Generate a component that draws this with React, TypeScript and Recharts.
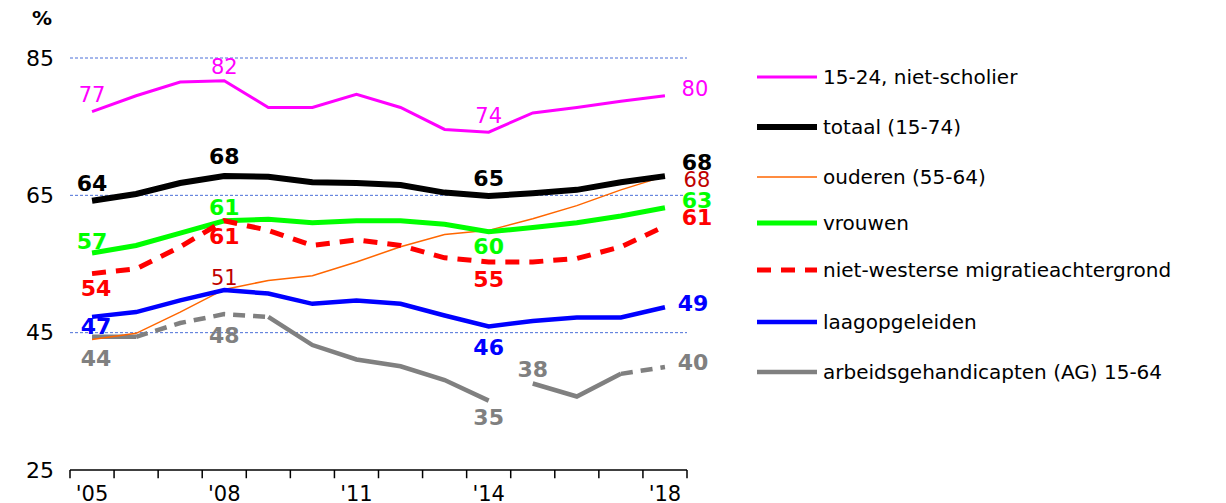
import { LineChart, Line, XAxis, YAxis, ReferenceLine, LabelList } from 'recharts'

const years = [2005, 2006, 2007, 2008, 2009, 2010, 2011, 2012, 2013, 2014, 2015, 2016, 2017, 2018]
const jongeren = [77.2, 79.5, 81.5, 81.7, 77.8, 77.8, 79.7, 77.8, 74.6, 74.2, 77, 77.8, 78.7, 79.5]
const totaal = [64.2, 65.2, 66.8, 67.8, 67.7, 66.9, 66.8, 66.5, 65.4, 64.9, 65.3, 65.8, 66.9, 67.8]
const ouderen = [44, 44.9, 48, 51.3, 52.6, 53.3, 55.3, 57.5, 59.3, 59.9, 61.6, 63.5, 65.8, 67.8]
const vrouwen = [56.6, 57.7, 59.5, 61.3, 61.5, 61, 61.3, 61.3, 60.8, 59.7, 60.3, 61, 62, 63.2]
const migratie = [53.6, 54.3, 57.5, 61.3, 59.9, 57.7, 58.5, 57.7, 55.9, 55.3, 55.3, 55.8, 57.5, 60.5]
const laag = [47.3, 48, 49.7, 51.2, 50.7, 49.2, 49.7, 49.2, 47.5, 45.9, 46.7, 47.2, 47.2, 48.7]
const ag = [44.4, 44.4, 46.4, 47.7, 47.3, 43.2, 41.1, 40.1, 38.1, 35.1, 37.6, 35.7, 39, 40]
const labelYears = [2005, 2008, 2011, 2014, 2018]
const yTicks = [25, 45, 65, 85]

// gray line pieces: [from, to, dashed]
const agPieces: [number, number, boolean][] = [
  [2005, 2006, false], [2006, 2009, true], [2009, 2014, false], [2015, 2017, false], [2017, 2018, true],
]

const data = years.map((y, i) => {
  const row: Record<string, number | null> = {
    year: y, jongeren: jongeren[i], totaal: totaal[i], ouderen: ouderen[i],
    vrouwen: vrouwen[i], migratie: migratie[i], laag: laag[i], ag: ag[i],
  }
  agPieces.forEach(([a, b], k) => { row['ag' + k] = y >= a && y <= b ? ag[i] : null })
  return row
})

// data labels: year -> [dx, dy]
type Lab = Record<number, [number, number]>
const labels: Record<string, Lab> = {
  jongeren: { 2005: [0, -17], 2008: [0, -14], 2014: [0, -16], 2018: [30, -7] },
  totaal: { 2005: [0, -17], 2008: [0, -20], 2014: [0, -18], 2018: [32, -14] },
  ouderen: { 2008: [0, -11], 2018: [32, 4] },
  vrouwen: { 2005: [0, -12], 2008: [0, -13], 2014: [0, 15], 2018: [32, -7] },
  migratie: { 2005: [4, 15], 2008: [0, 16], 2014: [0, 18], 2018: [32, -9] },
  laag: { 2005: [4, 10], 2014: [0, 21], 2018: [28, -4] },
  ag: { 2005: [4, 22], 2008: [0, 21], 2014: [0, 17], 2015: [0, -14], 2018: [28, -5] },
}

const legend = [
  { name: '15-24, niet-scholier', color: '#ff00ff', w: 3 },
  { name: 'totaal (15-74)', color: '#000000', w: 6 },
  { name: 'ouderen (55-64)', color: '#ff6600', w: 1.5 },
  { name: 'vrouwen', color: '#00ff00', w: 5 },
  { name: 'niet-westerse migratieachtergrond', color: '#ff0000', w: 5, dash: true },
  { name: 'laagopgeleiden', color: '#0000ff', w: 4.5 },
  { name: 'arbeidsgehandicapten (AG) 15-64', color: '#808080', w: 4.5 },
]
const legendTops = [77, 127, 177, 223, 270, 322, 372]

const font = 'Verdana, "DejaVu Sans", sans-serif'

function labelContent(key: string, color: string, bold: boolean) {
  return (p: any) => {
    const yr = years[p.index]
    const l = labels[key][yr]
    const v = data[p.index][key]
    if (!l || v == null) return null
    return (
      <text x={p.x + l[0]} y={p.y + l[1]} textAnchor="middle" dominantBaseline="central"
        fill={color} fontSize={bold ? 22 : 21} fontWeight={bold ? 'bold' : 'normal'} fontFamily={font}>
        {Math.round(v as number)}
      </text>
    )
  }
}

const halfTicks = [...years.map((y) => y - 0.5), 2018.5]

export default function App() {
  const series = [
    { key: 'ouderen', color: '#ff6600', w: 1.5, lab: '#c00000', bold: false },
    { key: 'jongeren', color: '#ff00ff', w: 3, lab: '#ff00ff', bold: false },
    { key: 'totaal', color: '#000000', w: 6, lab: '#000000', bold: true },
    { key: 'vrouwen', color: '#00ff00', w: 5, lab: '#00ff00', bold: true },
    { key: 'migratie', color: '#ff0000', w: 5, lab: '#ff0000', bold: true, dash: '14 10' },
    { key: 'laag', color: '#0000ff', w: 4.5, lab: '#0000ff', bold: true },
  ]
  return (
    <div style={{ position: 'absolute', left: 0, top: 0, width: 1226, height: 503, background: '#fff', fontFamily: font }}>
      <div style={{ position: 'absolute', left: 32, top: 6, fontSize: 20, fontWeight: 'bold' }}>%</div>
      <LineChart width={720} height={503} data={data} margin={{ top: 58, right: 33, bottom: 0, left: 10 }}>
        <XAxis dataKey="year" type="number" domain={[2004.5, 2018.5]} ticks={labelYears} axisLine={false} tickLine={false}
          tickFormatter={(v: number) => "'" + String(v).slice(2)} tick={{ fontSize: 21, fill: '#000', fontFamily: font }} tickMargin={10} height={33} />
        <YAxis domain={[25, 85]} ticks={yTicks} axisLine={false} tickLine={false} width={60} allowDataOverflow
          tick={{ fontSize: 22, fill: '#000', fontFamily: font, textAnchor: 'middle', dx: -22 }} />
        {[45, 65, 85].map((v) => (
          <ReferenceLine key={v} y={v} stroke="#4a6fd8" strokeDasharray="3 2" strokeWidth={1} />
        ))}
        <ReferenceLine y={25} stroke="#000" strokeWidth={1.5} />
        {halfTicks.map((t) => (
          <ReferenceLine key={t} segment={[{ x: t, y: 25 }, { x: t, y: 23.8 }]} stroke="#000" strokeWidth={1.5} ifOverflow="visible" />
        ))}
        {agPieces.map(([, , dashed], k) => (
          <Line key={k} dataKey={'ag' + k} stroke="#808080" strokeWidth={4.5} dot={false} connectNulls={false}
            strokeDasharray={dashed ? '12 8' : undefined} isAnimationActive={false} />
        ))}
        <Line dataKey="ag" stroke="none" dot={false} isAnimationActive={false}>
          <LabelList dataKey="ag" content={labelContent('ag', '#808080', true)} />
        </Line>
        {series.map((s) => (
          <Line key={s.key} dataKey={s.key} stroke={s.color} strokeWidth={s.w} dot={false}
            strokeDasharray={s.dash} isAnimationActive={false}>
            <LabelList dataKey={s.key} content={labelContent(s.key, s.lab, s.bold)} />
          </Line>
        ))}
      </LineChart>
      {legendTops.map((t, i) => (
        <div key={legend[i].name} style={{ position: 'absolute', left: 757, top: t - 12, display: 'flex', alignItems: 'center', fontSize: 20, height: 24 }}>
          <svg width={60} height={10} style={{ marginRight: 6 }}>
            <line x1={0} x2={60} y1={5} y2={5} stroke={legend[i].color} strokeWidth={legend[i].w} strokeDasharray={legend[i].dash ? '14 10' : undefined} />
          </svg>
          {legend[i].name}
        </div>
      ))}
    </div>
  )
}
